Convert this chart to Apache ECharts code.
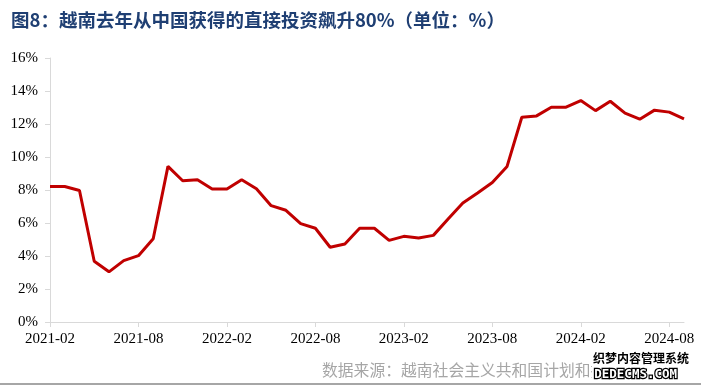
<!DOCTYPE html>
<html>
<head>
<meta charset="utf-8">
<script src="https://cdn.jsdelivr.net/npm/echarts@6/dist/echarts.min.js"></script>
<style>
html,body{margin:0;padding:0;background:#fff;}
#chart{width:701px;height:387px;}
</style>
</head>
<body>
<div id="chart"></div>
<script>
const titleText = '图8：越南去年从中国获得的直接投资飙升80%（单位：%）';
const sourceText = '数据来源：越南社会主义共和国计划和投资部';
const categories = [
  '2021-02','2021-03','2021-04','2021-05','2021-06','2021-07','2021-08','2021-09','2021-10','2021-11','2021-12',
  '2022-01','2022-02','2022-03','2022-04','2022-05','2022-06','2022-07','2022-08','2022-09','2022-10','2022-11','2022-12',
  '2023-01','2023-02','2023-03','2023-04','2023-05','2023-06','2023-07','2023-08','2023-09','2023-10','2023-11','2023-12',
  '2024-01','2024-02','2024-03','2024-04','2024-05','2024-06','2024-07','2024-08','2024-09'
];
const shareValues = [
  8.21, 8.21, 7.97, 3.68, 3.04, 3.72, 4.02, 5.05, 9.43, 8.56, 8.62,
  8.06, 8.06, 8.62, 8.08, 7.05, 6.77, 5.96, 5.68, 4.53, 4.73, 5.68, 5.68,
  4.95, 5.19, 5.09, 5.25, 6.24, 7.21, 7.82, 8.46, 9.43, 12.41, 12.49, 13.02,
  13.02, 13.42, 12.81, 13.38, 12.66, 12.29, 12.84, 12.72, 12.31
];
const yMin = 0, yMax = 16, yStep = 2;

const chart = echarts.init(document.getElementById('chart'), null, {renderer: 'canvas'});
const serif = '"Liberation Serif","DejaVu Serif",serif';
chart.setOption({
  animation: false,
  backgroundColor: '#ffffff',
  title: {
    text: titleText,
    left: 6, top: 6,
    textStyle: {color: '#1F3F73', fontSize: 18.5, fontWeight: 'bold', fontFamily: '"Noto Sans CJK SC", sans-serif'}
  },
  grid: {left: 50, right: 17, top: 58, bottom: 65, containLabel: false},
  xAxis: {
    type: 'category',
    data: categories,
    boundaryGap: false,
    axisLine: {lineStyle: {color: '#d9d9d9', width: 1}},
    axisTick: {show: true, interval: 5, length: 5, lineStyle: {color: '#d9d9d9'}},
    axisLabel: {interval: 5, margin: 10, color: '#000', fontSize: 15, fontFamily: serif},
    splitLine: {show: false}
  },
  yAxis: {
    type: 'value',
    min: yMin, max: yMax, interval: yStep,
    axisLine: {show: true, lineStyle: {color: '#d9d9d9', width: 1}},
    axisTick: {show: true, length: 5, lineStyle: {color: '#d9d9d9'}},
    axisLabel: {formatter: '{value}%', margin: 12, color: '#000', fontSize: 15, fontFamily: serif},
    splitLine: {show: false}
  },
  series: [{
    type: 'line',
    data: shareValues,
    symbol: 'none',
    lineStyle: {color: '#C00000', width: 3},
    itemStyle: {color: '#C00000'}
  }],
  graphic: [
    {type: 'text', left: 322, top: 362, style: {text: sourceText, fill: '#a6a6a6', fontSize: 15.8, fontFamily: '"Noto Sans CJK SC", sans-serif'}},
    {type: 'rect', shape: {x: 592, y: 351, width: 106, height: 30}, style: {fill: '#ffffff'}},
    {type: 'text', left: 593, top: 352, style: {text: '织梦内容管理系统', fill: '#000', fontSize: 12, fontWeight: 'bold', fontFamily: '"Noto Sans CJK SC", sans-serif'}},
    {type: 'text', left: 593, top: 367, style: {text: 'DEDECMS.COM', fill: '#fff', stroke: '#000', lineWidth: 2.5, fontSize: 12.5, fontWeight: 'bold', fontFamily: '"DejaVu Sans Mono", monospace'}},
    {type: 'rect', shape: {x: 0, y: 383, width: 701, height: 2}, style: {fill: '#a6a6a6'}}
  ]
});
</script>
</body>
</html>
